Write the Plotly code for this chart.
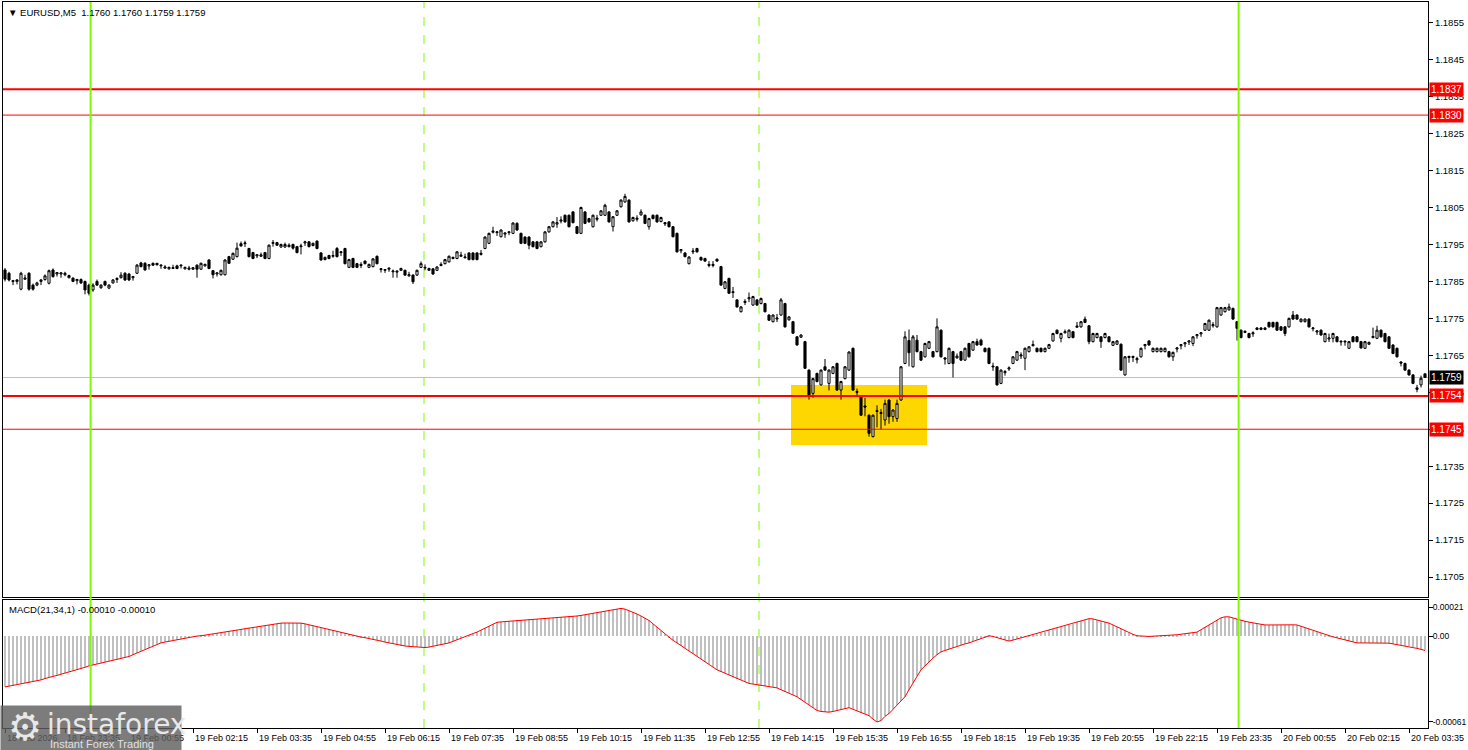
import pandas as pd
import plotly.graph_objects as go

# ---------------- DATA ----------------
symbol_header = "EURUSD,M5  1.1760 1.1760 1.1759 1.1759"
macd_header = "MACD(21,34,1) -0.00010 -0.00010"
first_bar_time = "2026-02-18 22:20"
BASE = 1.1700  # prices below are in pips above BASE

open_pips = [
88.1,87.2,85.2,85.0,82.9,85.6,87.2,84.0,84.0,85.0,85.5,84.5,88.1,87.0,87.0,86.8,86.0,85.9,85.2,85.5,
85.0,84.0,82.7,85.0,83.3,85.0,83.2,84.6,85.5,86.0,87.2,87.0,86.0,87.2,90.0,89.9,89.2,89.9,89.9,89.2,
88.6,88.4,88.5,89.2,89.2,88.4,88.3,88.3,89.4,88.3,89.2,90.8,87.9,87.0,86.8,86.8,91.7,91.0,91.7,95.2,
95.2,93.9,92.8,91.9,91.8,92.8,91.2,95.3,95.5,94.3,94.3,94.4,95.0,94.4,94.4,95.4,95.7,94.7,95.9,92.7,
90.9,92.0,91.8,93.9,92.8,93.9,88.8,91.2,89.8,89.3,90.5,88.8,89.0,91.8,88.2,88.0,88.3,87.6,87.5,88.0,
88.0,86.5,86.7,86.7,88.8,88.6,88.0,88.4,88.0,89.3,89.8,90.3,91.2,91.2,91.8,91.4,92.7,92.7,92.7,92.3,
93.9,95.3,98.3,98.2,97.1,97.8,98.2,98.0,100.7,98.0,97.0,97.0,95.7,95.7,94.4,95.7,98.4,99.8,100.5,101.3,
102.9,102.9,103.8,99.8,98.0,103.8,102.0,99.8,101.8,102.9,102.9,103.8,99.8,102.9,105.2,106.5,107.0,101.4,101.8,103.0,
102.9,99.8,102.9,102.9,101.2,100.9,101.1,99.8,98.0,93.3,92.7,89.8,93.0,93.9,91.5,91.2,89.3,89.3,91.0,89.0,
83.1,85.8,82.2,80.0,76.8,79.3,80.3,78.6,80.0,79.0,79.0,75.9,74.1,74.8,75.9,79.0,74.6,74.1,70.0,69.9,
68.7,61.0,54.7,60.1,57.0,61.9,57.4,60.1,62.8,55.6,58.7,61.0,66.9,55.2,53.8,51.3,48.8,43.0,49.8,49.5,
47.5,52.9,48.4,47.9,52.9,62.8,69.0,61.9,69.1,66.0,64.6,66.9,66.0,66.0,71.8,64.3,62.8,66.0,64.3,66.0,
63.7,68.2,66.4,68.7,69.1,66.9,66.9,62.1,61.9,57.4,60.3,61.3,62.8,63.7,64.8,64.2,66.0,67.6,66.9,66.9,
66.0,66.9,68.9,71.8,69.6,71.1,69.8,71.4,72.6,72.7,74.8,73.0,68.7,69.8,70.0,69.8,70.0,67.7,68.0,68.0,
59.7,64.4,64.4,63.8,64.6,67.6,68.9,66.0,66.0,66.0,66.0,66.0,64.6,66.7,67.6,68.1,68.6,68.2,70.3,70.8,
71.8,71.8,73.0,72.7,75.9,76.8,77.3,77.7,74.1,71.8,71.2,70.9,70.8,72.0,72.0,72.0,73.9,73.9,73.9,72.7,
72.7,72.7,75.9,75.9,74.1,74.1,74.8,72.2,71.3,71.8,68.7,69.4,69.6,70.0,68.6,68.6,66.9,70.0,70.0,68.7,
66.9,68.0,69.8,69.6,71.8,70.9,70.0,67.8,66.9,63.2,62.8,61.0,59.7,56.2,57.0,60.0]

close_pips = [
85.6,85.4,85.0,85.4,87.2,85.9,82.9,82.9,84.6,85.4,86.5,87.9,86.3,87.4,87.3,87.2,86.6,85.0,85.5,84.6,
82.7,81.8,84.0,84.0,84.0,84.0,84.0,85.4,85.8,86.7,85.4,85.4,86.3,89.4,89.0,88.1,89.5,89.4,89.5,89.4,
88.9,88.8,88.7,88.5,89.4,88.8,88.6,88.7,88.3,89.9,89.6,88.5,86.8,87.3,88.0,90.8,89.9,92.6,94.0,94.6,
95.4,91.7,91.2,92.2,92.2,91.2,94.8,95.5,94.8,95.0,95.0,94.8,94.0,92.8,94.6,95.7,94.4,95.3,93.9,90.8,
91.5,91.2,92.0,91.7,93.0,89.8,90.9,88.8,88.8,89.6,89.8,89.6,91.1,89.8,88.4,88.2,88.6,87.8,87.8,88.5,
86.7,86.8,84.9,88.0,89.8,88.8,88.5,87.0,88.9,89.6,90.9,91.8,91.5,93.0,92.1,91.6,90.9,90.9,90.9,92.6,
97.0,98.0,98.6,98.4,98.9,98.1,98.4,100.8,98.9,95.3,95.3,94.8,94.4,93.9,95.7,98.4,99.8,101.1,100.9,101.6,
101.1,99.8,100.9,98.0,105.0,100.7,101.1,102.9,102.1,104.1,105.6,101.1,102.5,104.1,107.0,108.0,101.1,102.3,102.1,103.8,
100.7,102.0,102.0,101.1,102.3,100.6,99.8,97.1,93.0,93.6,91.7,91.6,93.2,93.0,90.8,90.5,89.6,89.6,90.5,84.0,
84.9,81.8,82.0,78.1,78.1,79.6,80.6,80.9,78.6,80.4,76.8,74.5,75.9,75.1,80.0,72.7,75.4,71.0,67.8,70.5,
61.5,54.3,58.7,57.9,61.0,61.0,61.0,61.9,55.6,57.9,61.9,65.9,55.6,55.0,48.8,51.0,43.9,48.8,50.0,49.3,
52.0,48.4,50.2,52.0,61.9,70.0,65.7,70.0,66.0,63.7,68.2,68.7,64.6,72.7,64.6,64.0,66.9,62.8,64.8,63.7,
66.9,64.6,68.7,67.8,67.8,66.0,62.8,61.9,57.0,61.0,60.6,61.6,64.6,66.0,65.1,66.9,67.3,67.9,66.0,66.0,
66.9,67.9,70.9,70.9,70.9,71.4,71.8,69.8,72.9,74.1,73.9,68.7,70.9,70.9,68.7,70.9,68.7,68.7,68.9,61.0,
64.6,64.7,64.7,64.1,66.9,67.9,67.8,66.9,66.9,66.9,66.9,64.6,65.8,67.0,67.9,68.4,68.9,70.0,70.6,71.1,
73.6,74.5,73.3,77.9,77.9,77.9,78.1,74.8,72.3,69.8,71.5,69.8,71.1,72.4,72.4,72.4,72.7,72.7,71.8,71.8,
70.9,75.0,74.8,74.8,74.8,74.8,72.7,72.4,71.6,70.5,70.9,69.7,70.9,68.7,68.8,68.8,68.7,68.7,68.7,67.0,
68.7,68.5,70.1,71.8,70.0,68.7,66.9,65.5,64.6,62.9,61.0,59.7,57.4,55.8,58.8,59.0]

high_pips = [
88.6,87.6,85.4,85.6,87.6,86.8,87.5,84.4,84.9,85.6,86.9,88.2,88.5,87.5,87.4,87.6,86.8,86.1,85.7,85.8,
85.2,84.4,84.5,85.5,84.2,85.2,84.2,85.6,86.1,87.5,87.5,87.3,86.5,89.7,90.3,90.2,89.6,90.1,90.0,89.5,
89.4,89.0,89.5,89.5,89.5,89.0,89.2,88.9,89.6,90.1,89.8,91.0,88.1,87.4,88.2,91.0,91.9,92.8,95.5,95.8,
96.0,94.1,93.0,92.3,92.8,93.0,95.0,96.2,95.7,95.2,95.5,95.3,95.2,94.6,95.2,96.0,95.9,95.5,96.1,92.9,
91.7,92.2,93.3,94.3,93.1,94.1,91.1,91.4,90.0,90.2,90.7,89.8,91.3,92.0,88.6,88.3,88.7,88.2,87.9,88.7,
88.2,87.6,86.9,88.2,90.4,89.6,88.7,88.6,89.1,90.2,91.1,92.0,91.7,93.2,93.0,92.5,92.9,92.9,92.9,93.5,
97.2,98.2,99.8,98.5,99.1,98.2,98.5,101.0,101.0,98.2,97.2,97.2,95.9,95.9,95.9,98.6,100.0,101.3,102.4,102.6,
103.1,103.1,104.0,100.0,105.2,104.0,102.2,103.1,103.0,104.3,106.0,104.0,102.7,104.3,107.2,108.7,107.2,102.5,102.9,104.5,
103.1,102.2,103.1,103.1,102.5,101.0,101.3,100.0,98.2,93.7,92.9,91.8,94.0,94.1,91.7,91.4,90.5,90.5,91.2,89.2,
85.1,86.0,83.5,80.2,78.3,80.2,82.0,81.1,80.2,80.6,79.2,76.1,76.1,76.2,80.5,79.2,75.6,74.3,70.2,70.7,
68.9,61.2,58.9,60.3,61.2,64.0,61.2,62.1,63.0,58.1,62.1,66.1,67.1,56.0,54.0,53.5,49.0,49.0,51.5,50.5,
53.0,53.1,50.4,53.0,62.1,71.5,72.0,70.5,70.5,66.2,68.4,68.9,66.2,75.0,72.0,64.5,67.1,66.2,65.5,66.2,
67.1,68.4,68.9,69.5,69.5,67.1,67.1,63.0,62.1,61.2,61.0,62.0,64.8,66.2,65.8,67.1,67.5,69.0,67.1,67.1,
67.1,68.1,71.1,72.0,71.1,72.0,72.0,71.6,74.0,74.3,75.5,73.2,71.1,71.1,70.2,71.1,70.2,68.9,69.1,68.2,
64.8,64.9,64.9,64.6,67.1,68.1,69.1,67.1,67.1,67.1,67.1,66.2,66.0,67.2,68.0,68.6,69.0,70.2,70.7,71.2,
73.8,74.7,74.0,78.1,78.1,78.1,79.0,77.9,74.3,72.0,71.7,71.1,71.5,72.6,72.6,72.6,74.1,74.1,74.1,72.9,
72.9,75.2,77.0,76.1,75.0,75.0,75.0,72.6,71.8,72.0,71.1,70.9,71.1,70.2,69.0,69.0,68.9,70.2,70.2,68.9,
68.9,68.7,72.5,73.0,72.0,71.1,70.2,68.0,67.1,63.4,63.0,61.2,59.9,57.0,59.5,60.0]

low_pips = [
85.0,85.0,84.0,84.2,82.6,85.4,82.5,82.5,83.7,84.0,85.2,84.2,86.0,86.3,86.0,86.4,85.8,84.8,84.2,84.3,
81.5,81.2,82.2,83.8,83.0,83.7,82.9,84.4,84.6,85.8,85.1,85.1,85.2,87.0,88.8,87.9,88.2,89.2,89.3,88.4,
88.4,88.2,88.4,88.3,88.5,88.2,88.0,88.1,86.0,88.1,89.0,88.3,85.8,86.3,86.6,86.6,89.7,90.8,91.5,94.4,
94.3,91.5,91.0,91.3,91.6,91.0,91.0,94.4,94.6,94.1,94.1,94.2,93.6,92.6,92.3,94.6,94.2,94.5,93.7,90.6,
90.7,91.0,91.4,91.5,91.9,89.6,88.6,88.6,88.6,88.6,89.6,88.6,88.8,89.6,87.4,87.3,87.6,86.0,86.0,87.8,
86.5,86.3,84.3,86.5,88.6,88.0,87.8,86.8,87.8,89.1,89.6,90.1,91.0,91.0,91.6,91.2,90.7,90.7,90.7,92.0,
93.7,95.1,98.0,97.3,96.9,96.8,97.5,97.8,98.7,95.1,95.1,93.7,94.2,93.7,94.2,95.5,98.2,99.6,99.5,100.7,
100.9,99.6,100.7,97.8,97.8,100.5,100.9,99.6,101.2,102.7,102.7,100.9,98.5,102.7,105.0,106.3,100.9,101.2,101.2,102.8,
100.5,99.0,101.8,100.9,101.0,100.0,99.6,96.9,92.8,92.6,91.5,89.6,92.4,92.8,90.6,90.3,88.8,88.8,90.3,83.8,
82.9,81.6,80.5,77.9,76.6,78.6,79.4,78.4,78.4,78.8,76.6,74.3,73.9,74.0,75.7,72.5,74.4,70.8,67.6,69.7,
61.3,53.0,53.5,57.7,56.8,60.8,55.5,59.9,55.4,53.0,58.5,60.8,55.4,54.0,48.6,48.5,43.0,42.8,45.5,45.0,
46.0,46.5,47.0,47.0,52.7,62.6,62.0,61.7,65.8,63.5,64.4,66.7,64.4,65.8,64.4,62.5,62.6,59.0,64.1,63.5,
63.5,64.4,66.2,67.6,67.6,65.8,62.6,60.8,56.8,57.2,59.5,60.8,62.6,63.5,64.0,61.0,65.8,67.4,65.8,65.8,
65.8,66.7,68.7,70.7,68.5,70.9,69.6,69.6,72.4,72.5,73.7,68.0,68.5,69.6,67.0,69.6,68.5,67.5,67.8,60.8,
59.5,63.0,63.2,62.8,64.4,66.6,67.6,65.8,65.8,65.8,65.8,64.4,63.5,65.8,66.6,67.2,67.8,67.5,69.5,70.0,
71.6,71.6,72.5,72.5,75.7,76.6,77.1,74.6,69.0,69.6,71.0,69.6,70.0,71.8,71.8,71.8,72.5,72.5,71.6,71.6,
70.2,72.5,74.6,74.6,73.9,73.9,72.5,71.5,70.5,70.3,68.5,68.6,68.5,68.5,67.6,67.6,66.7,68.5,68.5,66.8,
66.7,67.8,69.6,69.4,69.8,68.5,66.7,65.3,64.4,62.0,60.8,59.5,57.2,55.0,56.3,59.0]

# MACD(21,34,1) main value per bar, in units of 0.00001
macd_e5 = [
-36,-35.5,-35,-34.5,-34,-33.5,-33,-32.5,-32,-31,-30,-29,
-28.5,-27.8,-27,-26.3,-25.5,-24.8,-24,-23,-22,-21,
-20.3,-19.6,-19,-18.3,-17.6,-17,-16.3,-15.6,-15,-14.3,
-13,-11.8,-10.5,-9.2,-8,-6.8,-5.7,-4.6,
-4,-3.4,-2.8,-2.2,-1.6,-1,-0.5,0,0.3,0.5,
0.9,1.4,1.8,2.3,2.8,3.2,3.6,4.1,4.5,5,
5.5,6,6.4,6.9,7.3,7.8,8.2,8.6,9,9.5,
9.6,9.7,9.7,9.6,9.5,
9,8.3,7.6,7,6.3,5.6,5,
4.4,3.7,3,2.3,1.6,0.9,0.3,-0.4,-0.9,-1.4,
-2,-2.7,-3.3,-4,-4.6,-5.3,-5.9,-6.5,
-6.8,-7.1,-7.4,-7.6,-7.8,-7.9,
-7.6,-7.1,-6.5,-5.8,-5.2,-4.6,
-3.5,-2.3,-1.2,0,1.1,2.1,3.1,
4.5,5.9,7.3,8.7,10.1,
10.4,10.6,10.9,11.1,11.4,11.6,11.9,12.1,12.4,12.6,12.8,13.1,13.3,
13.5,13.7,13.9,14.1,14.3,14.5,14.6,
15,15.5,16,16.5,17,17.5,18,18.5,19,19.5,20,
19.5,18.5,17.3,16,14.6,13,11.4,
9,6.6,4.2,1.8,-0.6,-2.8,-4.6,
-6.5,-8.4,-10.3,-12.2,-14.1,-16,-18,-19.9,-21.8,-23.8,
-25,-26.3,-27.5,-28.8,-30,-31.2,-32.3,-33.5,
-34,-34.5,-35,-35.4,-35.8,-36.2,-36.7,
-38,-39.3,-40.6,-41.8,-43,
-45,-47,-49,-51,-52.8,
-53.5,-54,-54,-53.5,-53,-52.3,-51.5,-50.8,
-52,-53.2,-54.4,-55.5,-56.5,
-59,-61,-60,
-57,-55,
-52,-49,-46,-43,
-38,-33,-28.5,-23.8,
-21,-18,-15.5,-13,-11,
-10,-9,-8,-7,-6,-5.3,-4.6,
-3.5,-2.5,-1.5,-0.5,0.5,
0,-0.8,-1.6,-2.4,-3.3,
-2.6,-1.8,-1,-0.3,0.5,1.2,1.8,
2.6,3.5,4.4,5.3,6.1,6.9,7.6,8.2,
9,10,11,11.9,12.7,
12.5,11.8,11,10.2,9.5,
8.2,6.8,5.4,4,2.7,1.5,0.5,
0.3,0,0,0.2,0.3,0.4,0.5,0.5,
0.8,1.2,1.6,2,2.4,2.8,3.1,
4.8,6.5,8.2,9.9,11.6,13.3,
14,14,
13.2,12.3,11.4,
10.8,10.2,9.6,9.1,8.6,8.2,
8.2,8.3,8.4,8.5,8.5,8.4,8.3,8.2,
7.2,6.2,5.2,4.2,3.2,2.2,1.3,0.5,
-0.3,-1,-1.7,-2.4,-3.1,-3.9,-4.6,
-4.6,-4.6,-4.5,-4.4,-4.4,-4.5,-4.6,-4.8,
-5.3,-5.8,-6.2,-6.6,-7,
-7.7,-8.5,-9.2,-10]

# time-axis labels (MT4 style, every 16 bars)
axis_labels = ["18 Feb 2026", "18 Feb 23:35", "19 Feb 00:55", "19 Feb 02:15", "19 Feb 03:35",
               "19 Feb 04:55", "19 Feb 06:15", "19 Feb 07:35", "19 Feb 08:55", "19 Feb 10:15",
               "19 Feb 11:35", "19 Feb 12:55", "19 Feb 14:15", "19 Feb 15:35", "19 Feb 16:55",
               "19 Feb 18:15", "19 Feb 19:35", "19 Feb 20:55", "19 Feb 22:15", "19 Feb 23:35",
               "20 Feb 00:55", "20 Feb 02:15", "20 Feb 03:35"]
axis_label_times = ["2026-02-18 22:20", "2026-02-18 23:35", "2026-02-19 00:55", "2026-02-19 02:15",
                    "2026-02-19 03:35", "2026-02-19 04:55", "2026-02-19 06:15", "2026-02-19 07:35",
                    "2026-02-19 08:55", "2026-02-19 10:15", "2026-02-19 11:35", "2026-02-19 12:55",
                    "2026-02-19 14:15", "2026-02-19 15:35", "2026-02-19 16:55", "2026-02-19 18:15",
                    "2026-02-19 19:35", "2026-02-19 20:55", "2026-02-19 22:15", "2026-02-19 23:35",
                    "2026-02-20 00:55", "2026-02-20 02:15", "2026-02-20 03:35"]

price_ticks = [1.1705, 1.1715, 1.1725, 1.1735, 1.1745, 1.1755, 1.1765, 1.1775, 1.1785,
               1.1795, 1.1805, 1.1815, 1.1825, 1.1835, 1.1845, 1.1855]
levels_thick = [1.1837, 1.1754]
levels_thin = [1.1830, 1.1745]
current_price = 1.1759
day_separators = [21.4, 308.4]          # bar positions of the solid green lines
session_lines = [104.75, 188.5]          # bar positions of the dashed green lines
zone_bars = [196.5, 230.5]               # highlighted zone (bar positions)
zone_prices = [1.17407, 1.17570]

# ---------------- BUILD ----------------
n = len(open_pips)
idx = list(range(n))
times = pd.date_range(first_bar_time, periods=n, freq="5min")
pos_of = {t: i for i, t in enumerate(times)}
label_pos = [pos_of[pd.Timestamp(t)] for t in axis_label_times]

to_price = lambda arr: [round(BASE + v / 10000.0, 5) for v in arr]
macd = [v * 1e-5 for v in macd_e5]

FONT = "Liberation Sans"
FS = 9.5
fig = go.Figure()

fig.add_trace(go.Candlestick(
    x=idx, open=to_price(open_pips), high=to_price(high_pips),
    low=to_price(low_pips), close=to_price(close_pips),
    increasing=dict(line=dict(color="black", width=1), fillcolor="white"),
    decreasing=dict(line=dict(color="black", width=1), fillcolor="black"),
    whiskerwidth=0, showlegend=False, hoverinfo="skip", xaxis="x", yaxis="y"))

fig.add_trace(go.Bar(x=list(range(len(macd))), y=macd, marker=dict(color="#C0C0C0", line=dict(width=0)),
                     width=0.4, showlegend=False, xaxis="x2", yaxis="y2", hoverinfo="skip"))
fig.add_trace(go.Scatter(x=list(range(len(macd))), y=macd, mode="lines",
                         line=dict(color="#FF0000", width=1), showlegend=False,
                         xaxis="x2", yaxis="y2", hoverinfo="skip"))

shapes = []
shapes.append(dict(type="rect", xref="x", yref="y", x0=zone_bars[0], x1=zone_bars[1],
                   y0=zone_prices[0], y1=zone_prices[1], fillcolor="#FFD700",
                   line=dict(width=0), layer="below"))
shapes.append(dict(type="line", xref="x domain", yref="y", x0=0, x1=1, y0=current_price,
                   y1=current_price, line=dict(color="#C0C0C0", width=1), layer="below"))
for lv in levels_thick:
    shapes.append(dict(type="line", xref="x domain", yref="y", x0=0, x1=1, y0=lv, y1=lv,
                       line=dict(color="#FF0000", width=2), layer="above"))
for lv in levels_thin:
    shapes.append(dict(type="line", xref="x domain", yref="y", x0=0, x1=1, y0=lv, y1=lv,
                       line=dict(color="#FF0000", width=1), layer="above"))
for xv in day_separators:
    shapes.append(dict(type="line", xref="x", yref="paper", x0=xv, x1=xv, y0=0, y1=1,
                       line=dict(color="#7CFC00", width=2), layer="above"))
for xv in session_lines:
    shapes.append(dict(type="line", xref="x", yref="paper", x0=xv, x1=xv, y0=0, y1=1,
                       line=dict(color="#7CFC00", width=1, dash="dash"), layer="below"))

annotations = []
annotations.append(dict(xref="paper", yref="paper", x=0, y=1, xanchor="left", yanchor="top",
                        xshift=3, yshift=-3, showarrow=False, align="left",
                        text="▼ " + symbol_header, font=dict(family=FONT, size=FS, color="black")))
annotations.append(dict(xref="paper", yref="paper", x=0, y=0.1763, xanchor="left", yanchor="top",
                        xshift=4, yshift=-2, showarrow=False, align="left",
                        text=macd_header, font=dict(family=FONT, size=FS, color="black")))
for lv in levels_thick + levels_thin:
    annotations.append(dict(xref="paper", yref="y", x=1, y=lv, xanchor="left", yanchor="middle",
                            xshift=1, showarrow=False, text=f"{lv:.4f}", bgcolor="#FF0000",
                            borderpad=1, font=dict(family=FONT, size=10, color="white")))
annotations.append(dict(xref="paper", yref="y", x=1, y=current_price, xanchor="left", yanchor="middle",
                        xshift=1, showarrow=False, text=f"{current_price:.4f}", bgcolor="#000000",
                        borderpad=1, font=dict(family=FONT, size=10, color="white")))
for p, lab in zip(label_pos, axis_labels):
    annotations.append(dict(xref="x2", yref="paper", x=p, y=0, xanchor="left", yanchor="top",
                            xshift=0, yshift=-3, showarrow=False, text=lab,
                            font=dict(family=FONT, size=9, color="black")))
# instaforex watermark
annotations.append(dict(xref="paper", yref="paper", x=0, y=0, xanchor="left", yanchor="top",
                        xshift=-3, yshift=23, showarrow=False, text=" ", width=180, height=45,
                        bgcolor="rgba(95,95,95,0.82)", borderpad=0))
annotations.append(dict(xref="paper", yref="paper", x=0, y=0, xanchor="left", yanchor="middle",
                        xshift=3, yshift=1, showarrow=False, text="⚙",
                        font=dict(family="DejaVu Sans", size=38, color="#e8e8e8")))
annotations.append(dict(xref="paper", yref="paper", x=0, y=0, xanchor="left", yanchor="middle",
                        xshift=42, yshift=4, showarrow=False, text="instaforex",
                        font=dict(family="DejaVu Sans", size=28, color="#e8e8e8")))
annotations.append(dict(xref="paper", yref="paper", x=0, y=0, xanchor="left", yanchor="middle",
                        xshift=45, yshift=-16, showarrow=False, text="Instant Forex Trading",
                        font=dict(family=FONT, size=11, color="#e0e0e0")))

axis_common = dict(showline=True, mirror=True, linecolor="black", linewidth=1,
                   showgrid=False, zeroline=False, automargin=False)

fig.update_layout(
    width=1468, height=750,
    margin=dict(l=3, r=40, t=2, b=22, autoexpand=False),
    paper_bgcolor="white", plot_bgcolor="white",
    font=dict(family=FONT, size=FS, color="black"),
    shapes=shapes, annotations=annotations, bargap=0, boxgap=0.25,
    xaxis=dict(domain=[0, 1], anchor="y", range=[-0.5, 355.75], showticklabels=False,
               ticks="", rangeslider=dict(visible=False), **axis_common),
    yaxis=dict(domain=[0.1804, 1], anchor="x", side="right", range=[1.16996, 1.18606],
               tickvals=price_ticks, ticktext=[f"{v:.4f}" for v in price_ticks],
               ticks="outside", ticklen=4, tickcolor="black",
               tickfont=dict(family=FONT, size=FS), **axis_common),
    xaxis2=dict(domain=[0, 1], anchor="y2", range=[-0.5, 355.75], matches="x",
                tickvals=label_pos, ticks="outside", ticklen=4, tickcolor="black",
                showticklabels=False, **axis_common),
    yaxis2=dict(domain=[0, 0.1763], anchor="x2", side="right", range=[-0.000653, 0.00026],
                tickvals=[0.00021, 0.0, -0.00061], ticktext=["0.00021", "0.00", "-0.00061"],
                ticks="outside", ticklen=4, tickcolor="black", ticklabelstandoff=-2,
                tickfont=dict(family=FONT, size=8.5), **axis_common),
)

fig.write_html("out.html", config={"displayModeBar": False},
               post_script="document.body.style.margin='0px';document.body.style.overflow='hidden';")
